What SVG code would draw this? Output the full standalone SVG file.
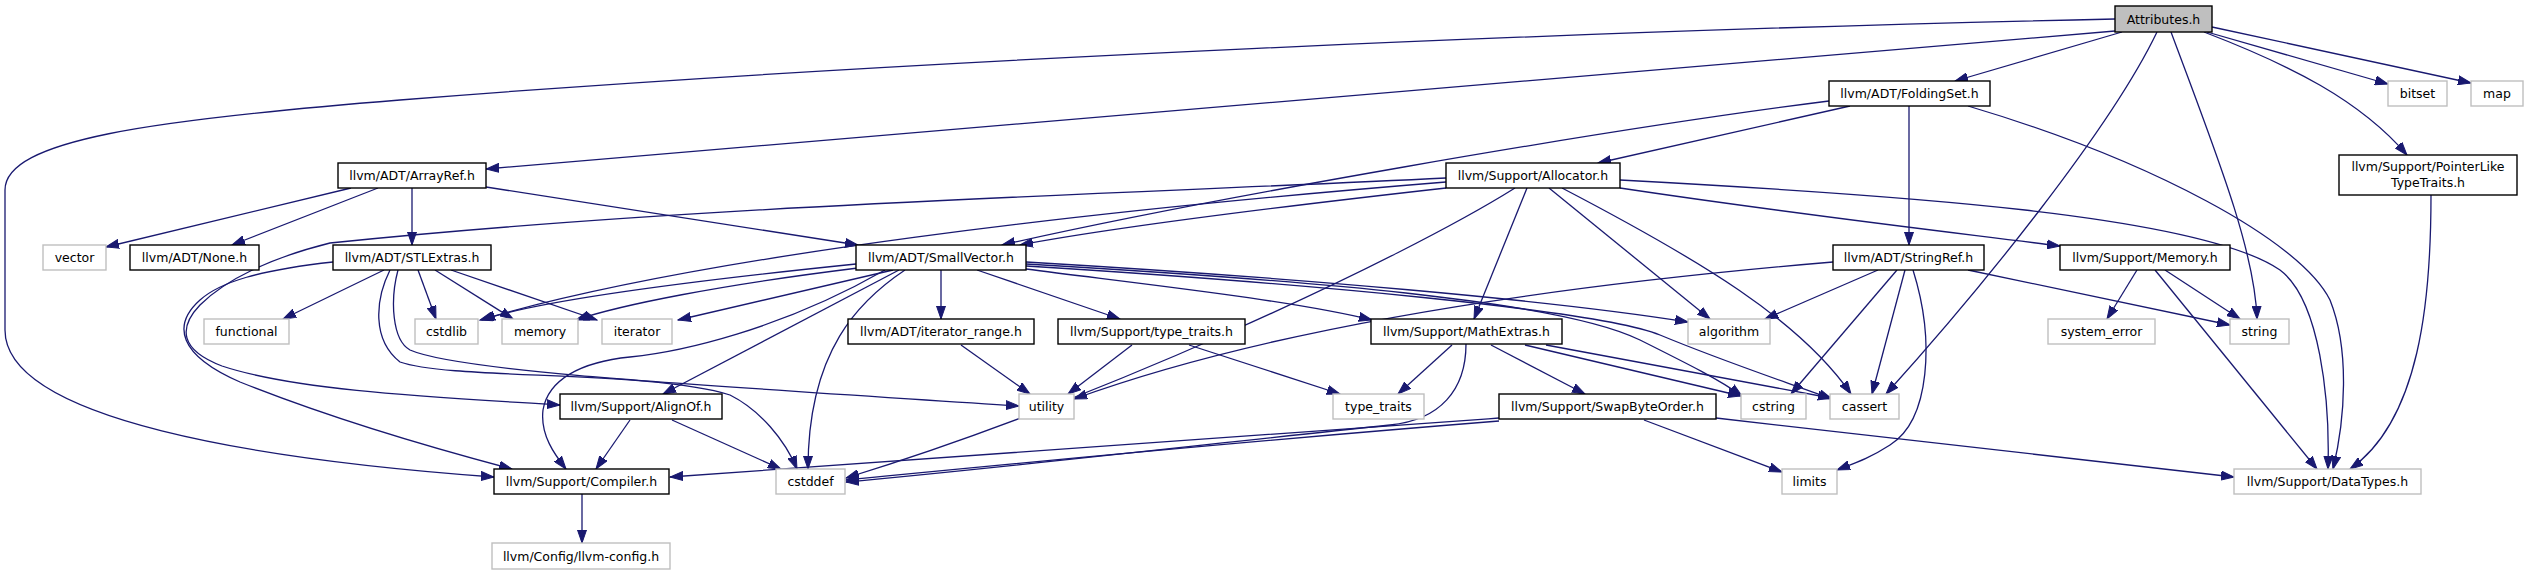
<svg xmlns="http://www.w3.org/2000/svg" width="2527" height="575" viewBox="0 0 2527 575">
<style>
rect{stroke-width:1.4}
.d rect{fill:#fff;stroke:#000}
.x rect{fill:#fff;stroke:#bfbfbf}
.r rect{fill:#bfbfbf;stroke:#000}
text{font-family:"DejaVu Sans",sans-serif;font-size:12.5px;text-anchor:middle;fill:#000}
#edges path{fill:none;stroke:#191970;stroke-width:1.3;marker-end:url(#a)}
</style>
<defs>
<marker id="a" markerUnits="userSpaceOnUse" markerWidth="14" markerHeight="10" refX="13" refY="5" orient="auto">
<path d="M0,0.5 L13,5 L0,9.5 z" fill="#191970" stroke="#191970" stroke-width="1"/>
</marker>
</defs>
<rect width="2527" height="575" fill="#fff"/>
<g id="edges">
<path d="M2115,19 C1600,30 900,60 400,100 C150,120 5,140 5,190 L5,330 C5,420 260,460 494,477"/>
<path d="M2115,31 L486,169"/>
<path d="M2122,32 L1955,81"/>
<path d="M2157,32 C2110,130 1980,290 1886,394"/>
<path d="M2171,32 C2215,150 2255,250 2257,319"/>
<path d="M2207,32 L2388,84"/>
<path d="M2212,27 L2471,83"/>
<path d="M2204,32 C2290,65 2360,100 2407,155"/>
<path d="M1829,101 C1600,130 1200,200 1002,245"/>
<path d="M1850,106 L1598,163"/>
<path d="M1909,106 L1909,245"/>
<path d="M1968,106 C2150,160 2300,240 2330,300 C2350,350 2345,420 2333,469"/>
<path d="M351,188 L106,247"/>
<path d="M378,188 L232,245"/>
<path d="M412,188 L412,245"/>
<path d="M486,187 L858,245"/>
<path d="M1446,188 C1250,210 1100,230 1020,245"/>
<path d="M1446,178 C1100,195 700,205 330,243 C270,258 225,280 200,305 C178,328 180,350 222,366 C300,392 450,398 560,405"/>
<path d="M1446,182 C1100,210 700,255 480,320"/>
<path d="M1515,188 C1400,260 1100,400 846,478"/>
<path d="M1527,188 L1474,319"/>
<path d="M1549,188 L1710,319"/>
<path d="M1562,188 C1700,260 1800,320 1851,394"/>
<path d="M1620,180 C1900,195 2200,215 2280,270 C2320,300 2330,400 2328,469"/>
<path d="M1620,188 C1800,215 1950,232 2060,246"/>
<path d="M384,270 L283,319"/>
<path d="M418,270 L436,319"/>
<path d="M435,270 L513,319"/>
<path d="M451,270 L597,320"/>
<path d="M398,270 C390,300 392,340 410,350 C460,372 700,385 1019,406"/>
<path d="M390,270 C375,300 372,340 400,362 C450,380 650,370 730,395 C760,410 785,440 797,469"/>
<path d="M333,262 C260,270 220,282 200,300 C172,325 178,355 240,382 C330,418 440,450 512,469"/>
<path d="M856,264 C700,280 540,300 482,320"/>
<path d="M858,268 C720,285 620,305 576,320"/>
<path d="M893,270 L678,320"/>
<path d="M899,270 L663,394"/>
<path d="M905,270 C860,300 808,350 808,469"/>
<path d="M885,270 C780,330 680,352 630,357 C580,362 548,380 543,410 C540,435 555,455 566,469"/>
<path d="M941,270 L941,319"/>
<path d="M977,270 L1120,319"/>
<path d="M1026,269 C1150,285 1290,300 1372,320"/>
<path d="M1026,262 C1300,278 1550,300 1688,322"/>
<path d="M1026,264 C1300,280 1560,300 1640,340 C1690,365 1720,380 1742,396"/>
<path d="M1026,266 C1300,283 1600,310 1660,335 C1720,360 1780,380 1832,399"/>
<path d="M1833,262 C1500,290 1250,335 1074,399"/>
<path d="M1878,270 L1765,319"/>
<path d="M1897,270 L1791,394"/>
<path d="M1905,270 L1872,394"/>
<path d="M1913,270 C1935,340 1930,420 1890,445 C1870,458 1855,463 1837,470"/>
<path d="M1968,270 L2230,325"/>
<path d="M2137,270 L2107,319"/>
<path d="M2165,270 L2240,319"/>
<path d="M2155,270 L2317,469"/>
<path d="M2431,195 C2431,300 2420,420 2350,469"/>
<path d="M961,345 L1030,394"/>
<path d="M1132,345 L1068,394"/>
<path d="M1189,345 L1340,394"/>
<path d="M1452,345 L1398,394"/>
<path d="M1491,345 L1585,394"/>
<path d="M1525,345 L1741,396"/>
<path d="M1546,345 L1831,398"/>
<path d="M1466,344 C1466,390 1440,420 1390,425 C1200,445 1000,468 846,482"/>
<path d="M630,420 L596,469"/>
<path d="M672,420 L781,469"/>
<path d="M1499,418 C1200,440 900,460 670,477"/>
<path d="M1499,421 C1200,445 1000,465 846,480"/>
<path d="M1644,420 L1782,472"/>
<path d="M1716,418 L2234,477"/>
<path d="M582,494 L582,543"/>
</g>
<g id="nodes">
<g id="n-attributes" class="r"><rect x="2115" y="6" width="97" height="26"/><text x="2163.5" y="23.5">Attributes.h</text></g>
<g id="n-foldingset" class="d"><rect x="1829" y="81" width="161" height="25"/><text x="1909.5" y="98">llvm/ADT/FoldingSet.h</text></g>
<g id="n-bitset" class="x"><rect x="2388" y="81" width="59" height="25"/><text x="2417.5" y="98">bitset</text></g>
<g id="n-map" class="x"><rect x="2471" y="81" width="52" height="25"/><text x="2497" y="98">map</text></g>
<g id="n-arrayref" class="d"><rect x="338" y="163" width="148" height="25"/><text x="412" y="180">llvm/ADT/ArrayRef.h</text></g>
<g id="n-allocator" class="d"><rect x="1446" y="163" width="174" height="25"/><text x="1533" y="180">llvm/Support/Allocator.h</text></g>
<g id="n-pointerlike" class="d"><rect x="2339" y="155" width="178" height="40"/><text x="2428" y="170.5">llvm/Support/PointerLike</text><text x="2428" y="186.5">TypeTraits.h</text></g>
<g id="n-vector" class="x"><rect x="43" y="245" width="63" height="25"/><text x="74.5" y="262">vector</text></g>
<g id="n-none" class="d"><rect x="130" y="245" width="129" height="25"/><text x="194.5" y="262">llvm/ADT/None.h</text></g>
<g id="n-stlextras" class="d"><rect x="333" y="245" width="158" height="25"/><text x="412" y="262">llvm/ADT/STLExtras.h</text></g>
<g id="n-smallvector" class="d"><rect x="856" y="245" width="170" height="25"/><text x="941" y="262">llvm/ADT/SmallVector.h</text></g>
<g id="n-stringref" class="d"><rect x="1833" y="245" width="151" height="25"/><text x="1908.5" y="262">llvm/ADT/StringRef.h</text></g>
<g id="n-memoryh" class="d"><rect x="2060" y="245" width="170" height="25"/><text x="2145" y="262">llvm/Support/Memory.h</text></g>
<g id="n-functional" class="x"><rect x="204" y="319" width="85" height="25"/><text x="246.5" y="336">functional</text></g>
<g id="n-cstdlib" class="x"><rect x="415" y="319" width="63" height="25"/><text x="446.5" y="336">cstdlib</text></g>
<g id="n-memory" class="x"><rect x="502" y="319" width="76" height="25"/><text x="540" y="336">memory</text></g>
<g id="n-iterator" class="x"><rect x="602" y="319" width="70" height="25"/><text x="637" y="336">iterator</text></g>
<g id="n-iterator-range" class="d"><rect x="848" y="319" width="186" height="25"/><text x="941" y="336">llvm/ADT/iterator_range.h</text></g>
<g id="n-type-traits-h" class="d"><rect x="1058" y="319" width="187" height="25"/><text x="1151.5" y="336">llvm/Support/type_traits.h</text></g>
<g id="n-mathextras" class="d"><rect x="1371" y="319" width="191" height="25"/><text x="1466.5" y="336">llvm/Support/MathExtras.h</text></g>
<g id="n-algorithm" class="x"><rect x="1688" y="319" width="82" height="25"/><text x="1729" y="336">algorithm</text></g>
<g id="n-system-error" class="x"><rect x="2048" y="319" width="107" height="25"/><text x="2101.5" y="336">system_error</text></g>
<g id="n-string" class="x"><rect x="2230" y="319" width="59" height="25"/><text x="2259.5" y="336">string</text></g>
<g id="n-alignof" class="d"><rect x="560" y="394" width="162" height="25"/><text x="641" y="411">llvm/Support/AlignOf.h</text></g>
<g id="n-utility" class="x"><rect x="1019" y="394" width="55" height="25"/><text x="1046.5" y="411">utility</text></g>
<g id="n-type-traits" class="x"><rect x="1333" y="394" width="91" height="25"/><text x="1378.5" y="411">type_traits</text></g>
<g id="n-swapbyteorder" class="d"><rect x="1499" y="394" width="217" height="25"/><text x="1607.5" y="411">llvm/Support/SwapByteOrder.h</text></g>
<g id="n-cstring" class="x"><rect x="1741" y="394" width="65" height="25"/><text x="1773.5" y="411">cstring</text></g>
<g id="n-cassert" class="x"><rect x="1830" y="394" width="69" height="25"/><text x="1864.5" y="411">cassert</text></g>
<g id="n-compiler" class="d"><rect x="494" y="469" width="175" height="25"/><text x="581.5" y="486">llvm/Support/Compiler.h</text></g>
<g id="n-cstddef" class="x"><rect x="776" y="469" width="69" height="25"/><text x="810.5" y="486">cstddef</text></g>
<g id="n-limits" class="x"><rect x="1782" y="469" width="55" height="25"/><text x="1809.5" y="486">limits</text></g>
<g id="n-datatypes" class="x"><rect x="2234" y="469" width="187" height="25"/><text x="2327.5" y="486">llvm/Support/DataTypes.h</text></g>
<g id="n-llvm-config" class="x"><rect x="492" y="543" width="178" height="26"/><text x="581" y="560.5">llvm/Config/llvm-config.h</text></g>
</g>
</svg>
